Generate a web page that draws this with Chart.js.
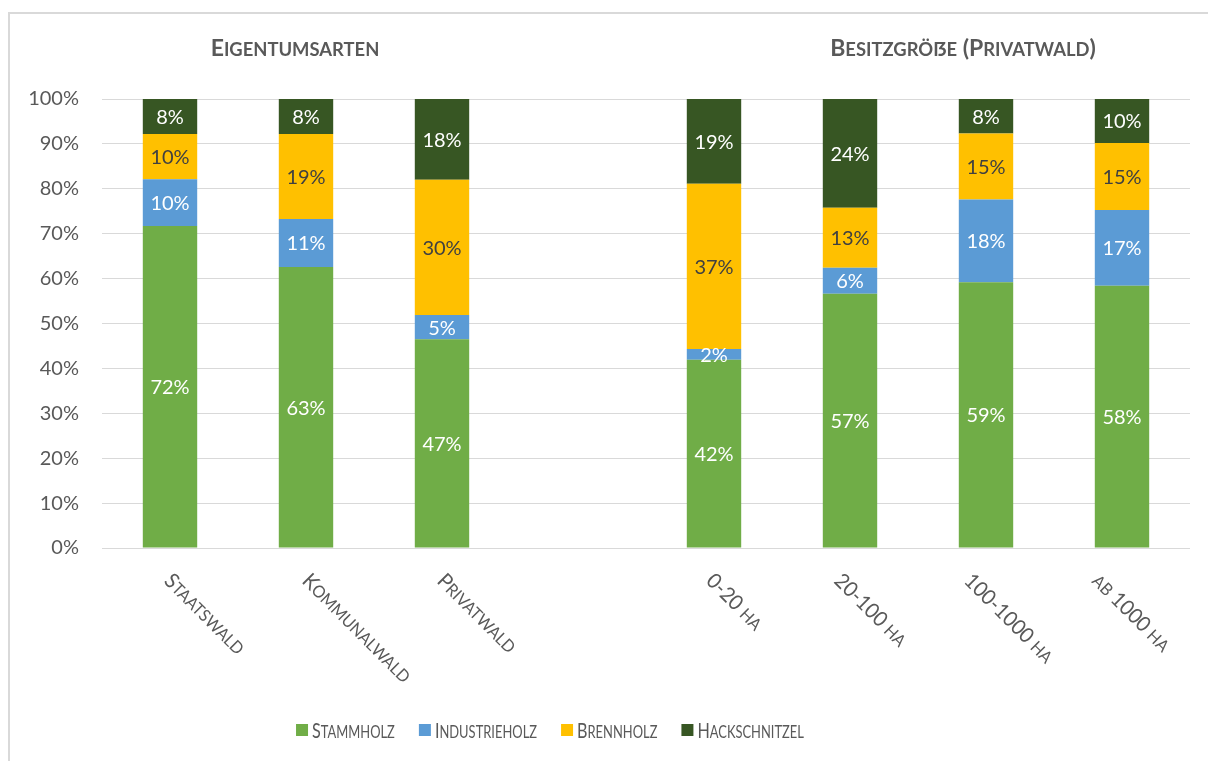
<!DOCTYPE html>
<html>
<head>
<meta charset="utf-8">
<script src="https://cdn.jsdelivr.net/npm/chart.js@4"></script>
<style>
  html, body { margin: 0; padding: 0; background: #fff; }
  #wrap { position: relative; width: 1208px; height: 761px; }
  #frame {
    position: absolute; left: 8px; top: 12px; right: 0; bottom: 0;
    border-left: 2px solid #d9d9d9; border-top: 2px solid #d9d9d9;
    pointer-events: none;
  }
  canvas { position: absolute; left: 0; top: 0; }
</style>
</head>
<body>
<div id="wrap">
  <canvas id="chart" width="1208" height="761"></canvas>
  <div id="frame"></div>
</div>
<script>
// ─── Data ─────────────────────────────────────────────────────────────────────
const categories = [
    "Staatswald", "Kommunalwald", "Privatwald", "",
    "0-20 ha", "20-100 ha", "100-1000 ha", "ab 1000 ha",
];
const stammholz     = [71.7, 62.6, 46.5, null, 41.9, 56.6, 59.2, 58.4];
const industrieholz = [10.4, 10.7,  5.4, null,  2.4,  5.8, 18.4, 16.9];
const brennholz     = [10.1, 18.9, 30.1, null, 36.8, 13.4, 14.7, 14.9];
const hackschnitzel = [ 7.8,  7.8, 18.0, null, 18.9, 24.2,  7.7,  9.8];
const groupTitles   = ["Eigentumsarten", "Besitzgröße (Privatwald)"];
const yTicks        = [0, 10, 20, 30, 40, 50, 60, 70, 80, 90, 100];

// ─── Styling ──────────────────────────────────────────────────────────────────
const FONT   = "Lato";
const GREY   = "#595959";
const SERIES = [
    { label: "Stammholz",     data: stammholz,     color: "#70ad47", text: "#ffffff" },
    { label: "Industrieholz", data: industrieholz, color: "#5b9bd5", text: "#ffffff" },
    { label: "Brennholz",     data: brennholz,     color: "#ffc000", text: "#404040" },
    { label: "Hackschnitzel", data: hackschnitzel, color: "#375623", text: "#ffffff" },
];

// little nudges for the rotated category labels (Excel places them unevenly)
const LABEL_NUDGE = [-5, -3, -4, 0, -7, -15, -21, -29];

// ─── Small caps helper (canvas synthesises them too small, and ß -> SS) ─────
function scRuns(text) {
    const runs = [];
    for (const ch of text) {
        const small = ch !== ch.toUpperCase();
        const shown = ch === "ß" ? "\u1E9E" : ch.toUpperCase();
        const last = runs[runs.length - 1];
        if (last && last.small === small) last.str += shown;
        else runs.push({ small, str: shown });
    }
    return runs;
}

function scFont(o, small) {
    return `${o.weight || 400} ${small ? o.size * o.ratio : o.size}px ${FONT}`;
}

function measureSC(ctx, text, o) {
    let w = 0;
    scRuns(text).forEach(r => {
        ctx.font = scFont(o, r.small);
        w += ctx.measureText(r.str).width;
    });
    return w * (o.squeeze || 1);
}

// draws with the baseline starting at (x,y) of the current transform
function drawSC(ctx, text, x, y, o) {
    const sq = o.squeeze || 1;
    let w = measureSC(ctx, text, o) / sq;
    ctx.save();
    ctx.translate(x, y);
    ctx.scale(sq, 1);
    let cx = o.align === "center" ? -w / 2 : 0;
    ctx.textAlign = "left";
    ctx.textBaseline = "alphabetic";
    scRuns(text).forEach(r => {
        ctx.font = scFont(o, r.small);
        ctx.fillText(r.str, cx, 0);
        cx += ctx.measureText(r.str).width;
    });
    ctx.restore();
}

// ─── Plugins: data labels, rotated ticks, titles, legend ─────────────────────
const decorations = {
    id: "decorations",
    afterDatasetsDraw(chart) {
        const ctx = chart.ctx;
        ctx.save();
        ctx.font = `400 20px ${FONT}`;
        ctx.textAlign = "center";
        ctx.textBaseline = "middle";
        chart.data.datasets.forEach((ds, i) => {
            const meta = chart.getDatasetMeta(i);
            meta.data.forEach((el, j) => {
                const v = ds.data[j];
                if (v == null) return;
                ctx.fillStyle = SERIES[i].text;
                ctx.fillText(Math.round(v) + "%", el.x, (el.y + el.base) / 2 + 1);
            });
        });
        ctx.restore();
    },
    afterDraw(chart) {
        const ctx = chart.ctx;
        const xs = chart.scales.x;
        const tickFont   = { size: 21, ratio: 0.8, weight: 400, squeeze: 0.95 };
        const titleFont  = { size: 23, ratio: 0.8, weight: 700, squeeze: 1, align: "center" };
        const legendFont = { size: 21, ratio: 0.8, weight: 400, squeeze: 0.77 };

        ctx.save();
        ctx.fillStyle = GREY;

        // category labels, rotated 45° clockwise
        categories.forEach((c, i) => {
            if (!c) return;
            const x = xs.getPixelForValue(i) + LABEL_NUDGE[i] - 2;
            ctx.save();
            ctx.translate(x, 582);
            ctx.rotate(Math.PI / 4);
            drawSC(ctx, c, 0, 0, tickFont);
            ctx.restore();
        });

        // group titles
        drawSC(ctx, groupTitles[0], 295, 56, titleFont);
        drawSC(ctx, groupTitles[1], 963, 56, titleFont);

        // legend
        const box = 12, gap = 4, spacing = 24;
        const widths = SERIES.map(s => box + gap + measureSC(ctx, s.label, legendFont));
        const total = widths.reduce((a, b) => a + b, 0) + spacing * (SERIES.length - 1);
        let x = 550 - total / 2;
        const y = 730;
        SERIES.forEach((s, i) => {
            ctx.fillStyle = s.color;
            ctx.fillRect(x, y - box / 2, box, box);
            ctx.fillStyle = GREY;
            drawSC(ctx, s.label, x + box + gap, y + 8, legendFont);
            x += widths[i] + spacing;
        });
        ctx.restore();
    },
};

new Chart(document.getElementById("chart"), {
    type: "bar",
    data: {
        labels: categories,
        datasets: SERIES.map(s => ({
            label: s.label,
            data: s.data,
            backgroundColor: s.color,
            borderWidth: 0,
            barPercentage: 0.4,
            categoryPercentage: 1.0,
        })),
    },
    options: {
        responsive: false,
        animation: false,
        layout: { padding: { left: 0, right: 18, top: 99, bottom: 0 } },
        plugins: {
            legend: { display: false },
            tooltip: { enabled: false },
        },
        scales: {
            x: {
                stacked: true,
                grid: { display: false },
                border: { display: false },
                ticks: { display: false },
                afterFit: s => { s.height = 213; },
            },
            y: {
                stacked: true,
                min: 0,
                max: 100,
                afterBuildTicks: s => { s.ticks = yTicks.map(v => ({ value: v })); },
                afterFit: s => { s.width = 102; },
                grid: { color: "#d9d9d9", lineWidth: 1, drawTicks: false },
                border: { display: false },
                ticks: {
                    padding: 23,
                    color: GREY,
                    font: { family: FONT, size: 20 },
                    callback: v => v + "%",
                },
            },
        },
    },
    plugins: [decorations],
});
</script>
</body>
</html>
